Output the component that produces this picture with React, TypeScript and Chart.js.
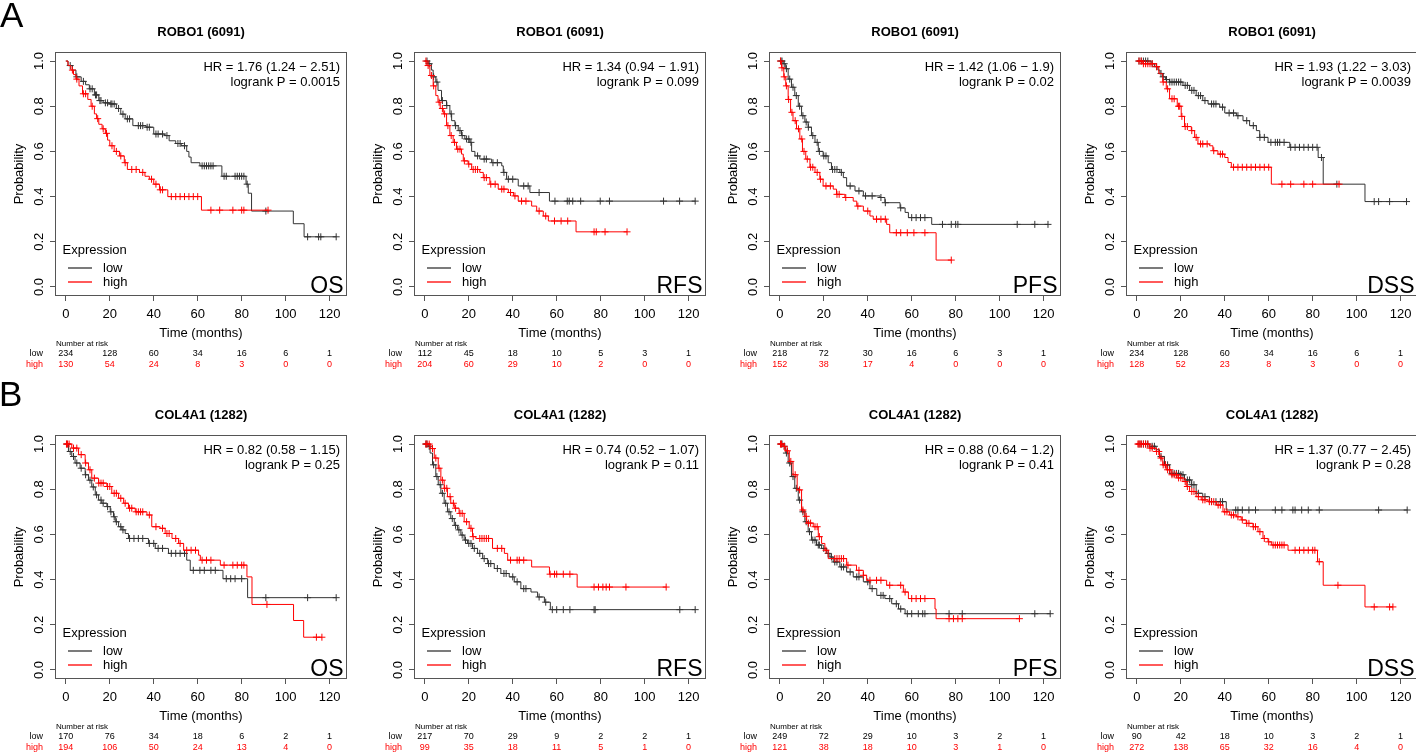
import React, { useEffect, useRef } from "react";
import { Chart, registerables } from "chart.js";

Chart.register(...registerables);

const FONT = '"Liberation Sans", Arial, Helvetica, sans-serif';

const xTicks = [0, 20, 40, 60, 80, 100, 120];
const yTicks = [0, 0.2, 0.4, 0.6, 0.8, 1.0];

const panelTitles = [
  "ROBO1 (6091)", "ROBO1 (6091)", "ROBO1 (6091)", "ROBO1 (6091)",
  "COL4A1 (1282)", "COL4A1 (1282)", "COL4A1 (1282)", "COL4A1 (1282)",
];
const hrTexts = [
  "HR = 1.76 (1.24 \u2212 2.51)", "HR = 1.34 (0.94 \u2212 1.91)", "HR = 1.42 (1.06 \u2212 1.9)", "HR = 1.93 (1.22 \u2212 3.03)",
  "HR = 0.82 (0.58 \u2212 1.15)", "HR = 0.74 (0.52 \u2212 1.07)", "HR = 0.88 (0.64 \u2212 1.2)", "HR = 1.37 (0.77 \u2212 2.45)",
];
const pTexts = [
  "logrank P = 0.0015", "logrank P = 0.099", "logrank P = 0.02", "logrank P = 0.0039",
  "logrank P = 0.25", "logrank P = 0.11", "logrank P = 0.41", "logrank P = 0.28",
];
const endpoints = ["OS", "RFS", "PFS", "DSS"];

// ---------- ROBO1 OS ----------
const robo1OsLow = [[0,1],[1,0.98],[3,0.96],[4.6,0.93],[7,0.91],[9,0.895],[10.7,0.877],[13,0.85],[15,0.825],[17,0.815],[20,0.81],[23,0.79],[25,0.765],[27,0.744],[30.5,0.714],[36.5,0.707],[40,0.677],[45,0.67],[47,0.647],[50,0.635],[52.5,0.625],[55,0.6],[56,0.575],[57,0.55],[61,0.536],[71,0.49],[82,0.455],[83,0.415],[84.5,0.336],[103.5,0.28],[108.4,0.222]];
const robo1OsLowCens = [2,5,8,11,12,13.5,14,15.5,16,18,19,20.5,21,22,24,26,28,29,33,34,35,37,38,41,42,44,46,51,52,54,62,63,64,65,66,67,72,73,77,78,79,80,81,82.5,91,110,115,116,123];
const robo1OsHigh = [[0,1],[1,0.98],[2.3,0.96],[3.5,0.94],[4.6,0.92],[6,0.89],[7.6,0.855],[10,0.83],[11.5,0.8],[13,0.766],[14,0.745],[15,0.72],[16.5,0.7],[18,0.68],[19,0.65],[20,0.625],[22,0.6],[24.4,0.58],[26.6,0.55],[28,0.52],[33.5,0.507],[36,0.49],[38,0.477],[40,0.455],[42.6,0.43],[46.4,0.4],[61.7,0.34]];
const robo1OsHighCens = [3,5,8,9,12,14.5,17,18.5,21,23,25,27,30,32,35,39,41,43,44,48,50,52,54,56,58,60,66,70,76,80,81,92];
const robo1OsRiskLow = [234,128,60,34,16,6,1];
const robo1OsRiskHigh = [130,54,24,8,3,0,0];

// ---------- ROBO1 RFS ----------
const robo1RfsLow = [[0,1],[1.5,0.988],[3,0.96],[3.8,0.93],[5,0.907],[6,0.87],[7.6,0.825],[9.9,0.803],[11.4,0.766],[12.2,0.736],[13.7,0.714],[15.2,0.692],[16.7,0.67],[18.2,0.655],[20.5,0.64],[21.3,0.6],[22.8,0.58],[25,0.566],[30.4,0.55],[35,0.536],[35.7,0.507],[37.2,0.477],[42.5,0.447],[47.8,0.418],[56.7,0.38]];
const robo1RfsLowCens = [1,2,4,5.5,8,10,12,14,16,17,19,20,21,24,27,28,31,33,36,38,40,45,47,52,59.2,64.8,65.7,67.3,70.9,79.8,84,108.6,115.9,123];
const robo1RfsHigh = [[0,1],[1,0.98],[2.3,0.936],[3.8,0.89],[5,0.847],[6,0.818],[7,0.79],[8.4,0.766],[9.9,0.714],[11.4,0.67],[12.9,0.64],[14.4,0.61],[16.7,0.588],[17.5,0.558],[19.7,0.544],[21.3,0.52],[25,0.507],[26.6,0.484],[29.6,0.455],[33.4,0.433],[38,0.418],[40.3,0.403],[42.5,0.38],[48.6,0.358],[50.9,0.336],[53.9,0.314],[56.2,0.292],[68.8,0.244]];
const robo1RfsHighCens = [0.5,1.5,3,4,6.5,8,9,10.5,12,13.5,15,16,18,20,22,23,24,27,28,30,32,35,36,39,41,44,46,52,55,59,62,65,77,78,82,92];
const robo1RfsRiskLow = [112,45,18,10,5,3,1];
const robo1RfsRiskHigh = [204,60,29,10,2,0,0];

// ---------- ROBO1 PFS ----------
const robo1PfsLow = [[0,1],[1.5,0.988],[2.7,0.966],[3.8,0.92],[5.3,0.884],[6.8,0.847],[8.4,0.8],[9.9,0.758],[11.4,0.73],[12.9,0.707],[14.4,0.67],[16,0.64],[17.5,0.6],[19.7,0.58],[22,0.55],[23.5,0.52],[27.3,0.507],[28.9,0.484],[30.4,0.447],[34.2,0.425],[38,0.403],[45.6,0.396],[47.8,0.373],[54.7,0.35],[57,0.33],[58.5,0.307],[69.1,0.277]];
const robo1PfsLowCens = [0.5,1,2,3,4.5,6,7.5,9,10.5,12,13,15,17,18,20,21,24,25,26,28,32,36,39,42,46,48,55,60,62,64,66,74,78,80,81,108,116,122];
const robo1PfsHigh = [[0,1],[0.8,0.97],[1.8,0.93],[2.7,0.89],[3.8,0.83],[4.9,0.773],[6,0.736],[7.6,0.7],[9.1,0.655],[10.3,0.6],[11.8,0.566],[13.7,0.53],[16,0.507],[18.2,0.477],[19.7,0.447],[24.3,0.433],[25.8,0.41],[29.6,0.396],[33.4,0.38],[35,0.358],[38,0.336],[41,0.314],[42.5,0.3],[48.6,0.277],[50,0.24],[71.1,0.119]];
const robo1PfsHighCens = [0.3,1,2,3,4,5.5,7,8.5,10,11,12.5,14,15,17,18.5,21,23,26,27,30,35.5,40,44,46,48,53,55,58,61,66,78];
const robo1PfsRiskLow = [218,72,30,16,6,3,1];
const robo1PfsRiskHigh = [152,38,17,4,0,0,0];

// ---------- ROBO1 DSS ----------
const robo1DssLow = [[0,1],[6.5,0.988],[8,0.975],[9.6,0.96],[10.5,0.945],[11.8,0.93],[13,0.918],[14.9,0.907],[21,0.892],[24,0.87],[27,0.847],[30,0.825],[32.4,0.81],[37.7,0.796],[40,0.77],[45.3,0.758],[48.3,0.736],[51.3,0.714],[54.4,0.692],[55.9,0.662],[59.7,0.64],[69.6,0.618],[82.5,0.573],[84.8,0.455],[103.8,0.378]];
const robo1DssLowCens = [1,2,3,4,5,7,9,11,12,13.5,15,16,17,18,19,20,22,23,25,26,28,29,31,34,35,36,39,42,44,46,50,53,56,58,61,63,64,65,67,70,72,74,76,78,80,82,84,91,108,110,115,122.7];
const robo1DssHigh = [[0,1],[2.7,0.988],[8.8,0.975],[10,0.944],[11.8,0.907],[13.4,0.877],[14.9,0.833],[18.4,0.8],[20.2,0.755],[21.7,0.71],[24.8,0.692],[26.3,0.662],[27.8,0.633],[33.1,0.625],[34.6,0.603],[36.9,0.588],[40,0.573],[41.5,0.551],[43,0.53],[61.2,0.455]];
const robo1DssHighCens = [1,2,3,4,5,6,7,9,12,14,16,17,19,19.5,20.5,22,23,25,27,29,30,32,35,38,39,44,46,48,50,52,54,56,58,60,66,70,76,80,92];
const robo1DssRiskLow = [234,128,60,34,16,6,1];
const robo1DssRiskHigh = [128,52,23,8,3,0,0];

// ---------- COL4A1 OS ----------
const col4a1OsLow = [[0,1],[1.2,0.967],[2.7,0.945],[4.2,0.916],[6.5,0.893],[8.8,0.864],[10.3,0.84],[11.8,0.81],[13.4,0.775],[14.9,0.752],[16.4,0.738],[18.7,0.723],[20.2,0.7],[21.7,0.678],[22.5,0.656],[24,0.634],[25.5,0.62],[27,0.604],[28.5,0.582],[37.6,0.56],[40.7,0.538],[46.7,0.516],[55,0.486],[56.6,0.441],[71.5,0.404],[82.7,0.32]];
const col4a1OsLowCens = [0.5,2,3.5,5,7,9,11,12.5,14,16,17,19,20.5,22,23,25,26,29,31,33,35,38,40,42,44,48,50,52,54,58,61,63,66,68,73,75,77,80,91,110,123];
const col4a1OsHigh = [[0,1],[2.7,0.982],[5.8,0.953],[8.8,0.916],[10.3,0.886],[11.8,0.849],[14.9,0.827],[18.7,0.812],[20.9,0.782],[24,0.76],[26.3,0.738],[28.5,0.716],[31.6,0.7],[36.9,0.686],[39.1,0.634],[42.9,0.627],[45.2,0.604],[48.3,0.582],[51.3,0.56],[53.6,0.53],[60.4,0.508],[61.2,0.486],[70.3,0.464],[82.4,0.412],[84.7,0.29],[103.6,0.219],[108.2,0.145]];
const col4a1OsHighCens = [0.3,0.8,1.5,3.5,5,7,9,11,13,15,16,17,19,20,22,23,25,27,29,30,32,33,34,35,38,41,44,46,47,50,52,55,57,59,62,64,66,72,76,78,80,81,91.5,114,116.5];
const col4a1OsRiskLow = [170,76,34,18,6,2,1];
const col4a1OsRiskHigh = [194,106,50,24,13,4,0];

// ---------- COL4A1 RFS ----------
const col4a1RfsLow = [[0,1],[1.5,0.99],[2.4,0.96],[3.5,0.908],[5,0.856],[6.1,0.82],[7.3,0.782],[8.8,0.738],[10.3,0.7],[11.8,0.67],[13.4,0.64],[14.9,0.62],[16.4,0.597],[17.9,0.575],[19.4,0.56],[21.7,0.538],[24,0.516],[26.3,0.493],[28.6,0.471],[31.6,0.449],[34.6,0.427],[38.4,0.412],[40.7,0.39],[43.7,0.36],[48.3,0.345],[51.3,0.323],[54.4,0.3],[57.1,0.267]];
const col4a1RfsLowCens = [0.5,1,2,4,5.5,7,8,9.5,11,12.5,14,15.5,17,18.5,20,21,22.5,25,27,29,30,33,36,37,40,42,45,46,52,55,58,60,63,66,77,77.5,116,123];
const col4a1RfsHigh = [[0,1],[2.7,0.98],[4.3,0.938],[6.1,0.893],[7.3,0.84],[8.8,0.804],[10.3,0.767],[11.8,0.738],[13.4,0.716],[15.6,0.693],[17.9,0.656],[20.2,0.627],[21.7,0.59],[23.2,0.582],[30.8,0.538],[36.2,0.516],[37.7,0.486],[48.6,0.456],[56.7,0.424],[69.3,0.367]];
const col4a1RfsHighCens = [0.5,1,2,3.5,5,6.5,8,9,10,11.5,13,14,16,17,19,21,22,25,26,27,28,29,33,35,39,42,43,45,57,59,60,63,66,77,79,81,82.5,84,91.5,109.8];
const col4a1RfsRiskLow = [217,70,29,9,2,2,1];
const col4a1RfsRiskHigh = [99,35,18,11,5,1,0];

// ---------- COL4A1 PFS ----------
const col4a1PfsLow = [[0,1],[1.5,0.99],[2.7,0.96],[3.8,0.916],[5.3,0.856],[6.8,0.804],[8.4,0.752],[9.9,0.7],[11.4,0.656],[12.9,0.612],[14.4,0.575],[16.7,0.553],[19,0.538],[21.3,0.516],[22.8,0.5],[24.3,0.478],[27.3,0.456],[30.4,0.434],[33.4,0.412],[38,0.39],[41,0.36],[44.1,0.33],[47.8,0.316],[50.9,0.293],[54,0.27],[57,0.249]];
const col4a1PfsLowCens = [0.5,1,2,3,4.5,6,7.5,9,10.5,12,13.5,15,16,17.5,18,20,22,23.5,25,26,28,29,32,35,36,40,42,46,47,50,53,55,58,60,63,65,66,77,83,116,123];
const col4a1PfsHigh = [[0,1],[1.5,0.99],[2.7,0.97],[4.3,0.923],[6,0.864],[7.9,0.797],[9.9,0.708],[11.4,0.68],[12.2,0.65],[15.2,0.634],[17.5,0.59],[19,0.56],[20.5,0.53],[22,0.493],[30.4,0.464],[34.9,0.441],[38,0.419],[39.5,0.397],[48.6,0.375],[56.2,0.345],[58.5,0.316],[70.6,0.27],[71.1,0.227]];
const col4a1PfsHighCens = [0.3,0.8,2,3.5,5,7,9,10.5,12,13,14,16,17,18,21,25,26,27,28,29,31,36,38,41,44,46,50,55,57,60,62,64,66,77,79,81,83,109];
const col4a1PfsRiskLow = [249,72,29,10,3,2,1];
const col4a1PfsRiskHigh = [121,38,18,10,3,1,0];

// ---------- COL4A1 DSS ----------
const col4a1DssLow = [[0,1],[5.8,0.99],[8.8,0.975],[10.3,0.945],[12.6,0.908],[14.9,0.87],[19.4,0.864],[21.7,0.841],[24.8,0.82],[27,0.782],[30,0.767],[33.1,0.745],[40.7,0.708]];
const col4a1DssLowCens = [1,2,3,4,5,7,8,11,13,14,16,17,18,19,20,21,23,24,25,26,28,31,34,36,38,39,45,46,48,51,54,63,66,71,72,75,78,83,110,123];
const col4a1DssHigh = [[0,1],[5.8,0.982],[8.8,0.967],[10.3,0.938],[11.8,0.908],[13.4,0.886],[15.6,0.864],[18.7,0.85],[21,0.834],[22.5,0.812],[24,0.79],[27,0.767],[29.3,0.753],[32.4,0.745],[36.2,0.73],[39.2,0.7],[42.2,0.686],[45.3,0.678],[47.5,0.664],[49.8,0.649],[52.9,0.634],[55.1,0.612],[57.4,0.582],[59.7,0.567],[61.2,0.553],[68.8,0.53],[82.2,0.479],[84.8,0.375],[103.8,0.279]];
const col4a1DssHighCens = [0.5,1,1.5,2,3,4,5,6,7,9,10,11,12,13,14,15,16,17,18,19,20,22,23,25,26,28,30,31,33,34,35,37,38,40,41,43,44,46,48,50,51,53,54,56,58,60,62,63,64,65,66,67,72,74,76,78,80,81,83,91.5,108,115,116.5];
const col4a1DssRiskLow = [90,42,18,10,3,2,1];
const col4a1DssRiskHigh = [272,138,65,32,16,4,0];

const panels = [
  { low: robo1OsLow, lowC: robo1OsLowCens, high: robo1OsHigh, highC: robo1OsHighCens, rLow: robo1OsRiskLow, rHigh: robo1OsRiskHigh },
  { low: robo1RfsLow, lowC: robo1RfsLowCens, high: robo1RfsHigh, highC: robo1RfsHighCens, rLow: robo1RfsRiskLow, rHigh: robo1RfsRiskHigh },
  { low: robo1PfsLow, lowC: robo1PfsLowCens, high: robo1PfsHigh, highC: robo1PfsHighCens, rLow: robo1PfsRiskLow, rHigh: robo1PfsRiskHigh },
  { low: robo1DssLow, lowC: robo1DssLowCens, high: robo1DssHigh, highC: robo1DssHighCens, rLow: robo1DssRiskLow, rHigh: robo1DssRiskHigh },
  { low: col4a1OsLow, lowC: col4a1OsLowCens, high: col4a1OsHigh, highC: col4a1OsHighCens, rLow: col4a1OsRiskLow, rHigh: col4a1OsRiskHigh },
  { low: col4a1RfsLow, lowC: col4a1RfsLowCens, high: col4a1RfsHigh, highC: col4a1RfsHighCens, rLow: col4a1RfsRiskLow, rHigh: col4a1RfsRiskHigh },
  { low: col4a1PfsLow, lowC: col4a1PfsLowCens, high: col4a1PfsHigh, highC: col4a1PfsHighCens, rLow: col4a1PfsRiskLow, rHigh: col4a1PfsRiskHigh },
  { low: col4a1DssLow, lowC: col4a1DssLowCens, high: col4a1DssHigh, highC: col4a1DssHighCens, rLow: col4a1DssRiskLow, rHigh: col4a1DssRiskHigh },
];

const LOW_COLOR = "#333333";
const HIGH_COLOR = "#ff0000";
const BOX_COLOR = "#555555";

const CANVAS_W = 357;
const CANVAS_H = 369;
const boxLefts = [55, 414, 769, 1126];
const rowTops = [0, 383];

type Pt = { x: number; y: number; c: boolean };

function buildCurve(events: number[][], censors: number[]): Pt[] {
  const pts: Pt[] = events.map(([t, s]) => ({ x: t, y: s, c: false }));
  censors.forEach((t) => {
    let s = 1;
    for (const [et, es] of events) if (et <= t) s = es;
    pts.push({ x: t, y: s, c: true });
  });
  pts.sort((a, b) => a.x - b.x || (a.c === b.c ? 0 : a.c ? 1 : -1));
  return pts;
}

function makePlugin(p: number) {
  const panel = panels[p];
  return {
    id: "kmPanel" + p,
    afterDraw(chart: any) {
      const { ctx, chartArea: ca } = chart;
      const xs = chart.scales.x;
      ctx.save();
      // box
      ctx.strokeStyle = BOX_COLOR;
      ctx.lineWidth = 1;
      ctx.strokeRect(Math.round(ca.left) + 0.5, Math.round(ca.top) + 0.5, Math.round(ca.width) - 1, Math.round(ca.height) - 1);
      // title
      ctx.fillStyle = "#000";
      ctx.font = `bold 13px ${FONT}`;
      ctx.textAlign = "center";
      ctx.textBaseline = "middle";
      ctx.fillText(panelTitles[p], (ca.left + ca.right) / 2, ca.top - 19.5);
      // HR
      ctx.font = `13px ${FONT}`;
      ctx.textAlign = "right";
      ctx.fillText(hrTexts[p], ca.right - 7, ca.top + 15);
      ctx.fillText(pTexts[p], ca.right - 7, ca.top + 30);
      // legend
      ctx.textAlign = "left";
      ctx.fillText("Expression", ca.left + 7.5, ca.bottom - 46);
      ctx.fillText("low", ca.left + 48, ca.bottom - 28);
      ctx.fillText("high", ca.left + 48, ca.bottom - 14);
      ctx.lineWidth = 1.3;
      ctx.strokeStyle = LOW_COLOR;
      ctx.beginPath();
      ctx.moveTo(ca.left + 13, ca.bottom - 28);
      ctx.lineTo(ca.left + 37, ca.bottom - 28);
      ctx.stroke();
      ctx.strokeStyle = HIGH_COLOR;
      ctx.beginPath();
      ctx.moveTo(ca.left + 13, ca.bottom - 14);
      ctx.lineTo(ca.left + 37, ca.bottom - 14);
      ctx.stroke();
      // endpoint label
      ctx.fillStyle = "#000";
      ctx.font = `23px ${FONT}`;
      ctx.textAlign = "right";
      ctx.textBaseline = "alphabetic";
      ctx.fillText(endpoints[p % 4], ca.right - 3.5, ca.bottom - 3.5);
      // number at risk
      ctx.textBaseline = "middle";
      ctx.font = `8px ${FONT}`;
      ctx.textAlign = "left";
      ctx.fillText("Number at risk", ca.left + 1, ca.bottom + 48);
      ctx.font = `9px ${FONT}`;
      ctx.textAlign = "right";
      ctx.fillStyle = "#000";
      ctx.fillText("low", ca.left - 12, ca.bottom + 58);
      ctx.fillStyle = HIGH_COLOR;
      ctx.fillText("high", ca.left - 12, ca.bottom + 68.5);
      ctx.textAlign = "center";
      xTicks.forEach((v, i) => {
        const px = xs.getPixelForValue(v);
        ctx.fillStyle = "#000";
        ctx.fillText(String(panel.rLow[i]), px, ca.bottom + 58);
        ctx.fillStyle = HIGH_COLOR;
        ctx.fillText(String(panel.rHigh[i]), px, ca.bottom + 68.5);
      });
      ctx.restore();
    },
  };
}

function KMPanel({ index }: { index: number }) {
  const ref = useRef<HTMLCanvasElement | null>(null);
  useEffect(() => {
    if (!ref.current) return;
    const panel = panels[index];
    const lowPts = buildCurve(panel.low, panel.lowC);
    const highPts = buildCurve(panel.high, panel.highC);
    const ds = (label: string, pts: Pt[], color: string, order: number) => ({
      label,
      data: pts.map((q) => ({ x: q.x, y: q.y })),
      borderColor: color,
      backgroundColor: color,
      borderWidth: 1,
      stepped: "before" as const,
      fill: false,
      tension: 0,
      order,
      pointStyle: "cross" as const,
      pointRadius: pts.map((q) => (q.c ? 3.5 : 0)),
      pointHoverRadius: pts.map((q) => (q.c ? 3.5 : 0)),
      pointBorderColor: color,
      pointBorderWidth: 1,
    });
    const tickFont = { size: 13, family: FONT };
    const chart = new Chart(ref.current, {
      type: "line",
      data: {
        datasets: [ds("high", highPts, HIGH_COLOR, 0), ds("low", lowPts, LOW_COLOR, 1)],
      },
      options: {
        animation: false,
        responsive: false,
        devicePixelRatio: 1,
        events: [],
        layout: { padding: { left: 10, right: 10, top: 52, bottom: 28 } },
        plugins: { legend: { display: false }, tooltip: { enabled: false }, title: { display: false } },
        scales: {
          x: {
            type: "linear",
            min: -4.92,
            max: 127.92,
            afterBuildTicks: (s: any) => {
              s.ticks = xTicks.map((v) => ({ value: v }));
            },
            afterFit: (s: any) => {
              s.height = 45;
            },
            grid: { drawOnChartArea: false, drawTicks: true, tickLength: 5, color: BOX_COLOR },
            border: { display: false },
            ticks: {
              color: "#000",
              font: tickFont,
              padding: 5.5,
              maxRotation: 0,
              minRotation: 0,
              autoSkip: false,
              callback: (v: any) => String(v),
            },
            title: { display: true, text: "Time (months)", color: "#000", font: tickFont, padding: { top: 0, bottom: 0 } },
          },
          y: {
            type: "linear",
            min: -0.04,
            max: 1.04,
            afterBuildTicks: (s: any) => {
              s.ticks = yTicks.map((v) => ({ value: v }));
            },
            afterFit: (s: any) => {
              s.width = 45;
            },
            grid: { drawOnChartArea: false, drawTicks: true, tickLength: 5, color: BOX_COLOR },
            border: { display: false },
            ticks: {
              color: "#000",
              font: tickFont,
              padding: 1.5,
              minRotation: 90,
              maxRotation: 90,
              crossAlign: "center",
              autoSkip: false,
              callback: (v: any) => Number(v).toFixed(1),
            },
            title: { display: true, text: "Probability", color: "#000", font: tickFont, padding: { top: 2, bottom: 0 } },
          },
        },
      },
      plugins: [makePlugin(index)],
    } as any);
    return () => chart.destroy();
  }, [index]);
  const col = index % 4;
  const row = Math.floor(index / 4);
  return (
    <div
      style={{
        position: "absolute",
        left: boxLefts[col] - 55,
        top: rowTops[row],
        width: CANVAS_W,
        height: CANVAS_H,
      }}
    >
      <canvas ref={ref} width={CANVAS_W} height={CANVAS_H} style={{ width: CANVAS_W, height: CANVAS_H, display: "block" }} />
    </div>
  );
}

export default function App() {
  return (
    <div
      style={{
        position: "absolute",
        left: 0,
        top: 0,
        width: 1416,
        height: 752,
        overflow: "hidden",
        background: "#fff",
      }}
    >
      {panels.map((_, i) => (
        <KMPanel key={i} index={i} />
      ))}
      <div style={{ position: "absolute", left: 0, top: -3, fontFamily: FONT, fontSize: 35, lineHeight: "35px", color: "#000" }}>A</div>
      <div style={{ position: "absolute", left: -1, top: 376, fontFamily: FONT, fontSize: 35, lineHeight: "35px", color: "#000" }}>B</div>
    </div>
  );
}
